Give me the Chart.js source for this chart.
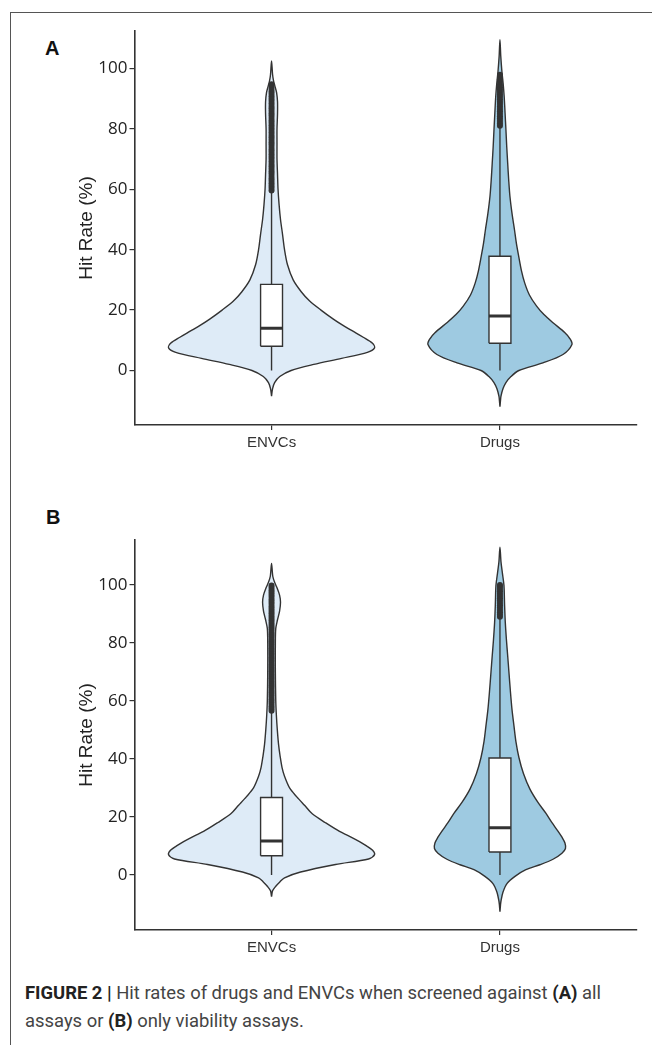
<!DOCTYPE html>
<html>
<head>
<meta charset="utf-8">
<script src="https://cdn.jsdelivr.net/npm/chart.js@4.4.0/dist/chart.umd.min.js"></script>
<style>
    body {
        margin: 0;
        width: 652px;
        height: 1045px;
        position: relative;
        overflow: hidden;
        background: #fff;
        font-family: "Liberation Sans", Arial, sans-serif;
    }
    .frame-top {
        position: absolute; left: 10px; top: 12px; width: 642px; height: 0;
        border-top: 1.5px solid #555;
    }
    .frame-left {
        position: absolute; left: 10px; top: 12px; width: 0; height: 1033px;
        border-left: 1.5px solid #555;
    }
    .panel-tag {
        position: absolute;
        font: bold 20px "Liberation Sans", Arial, sans-serif;
        line-height: 22px;
        color: #111;
    }
    canvas { position: absolute; left: 0; }
    #panelA { top: 0; }
    #panelB { top: 480px; }
    .caption-line {
        position: absolute;
        left: 25px;
        white-space: nowrap;
        font: 18.5px Roboto, "Liberation Sans", sans-serif;
        line-height: 22px;
        color: #444;
        transform-origin: left center;
    }
    .caption-line b { color: #222; }
</style>
</head>
<body>
<div class="frame-top"></div>
<div class="frame-left"></div>

<div class="panel-tag" style="left:45px; top:37px;">A</div>
<div class="panel-tag" style="left:46px; top:506px;">B</div>

<canvas id="panelA" width="652" height="470"></canvas>
<canvas id="panelB" width="652" height="490"></canvas>

<span class="caption-line" id="cap1" style="top:982px;"><b>FIGURE 2 |</b> Hit rates of drugs and ENVCs when screened against <b>(A)</b> all</span>
<span class="caption-line" id="cap2" style="top:1010px;">assays or <b>(B)</b> only viability assays.</span>

<script>
// categories and y ticks
var groups = ["ENVCs", "Drugs"];
var yTicks = [0, 20, 40, 60, 80, 100];

// ---- Panel A: all assays ----
// violin outline = hit rate levels + relative density at each level
var envcsA_levels  = [-8.5, -6, -4, -2, 0, 2, 4, 6, 7.5, 9, 11, 13, 15, 17, 20, 23, 26, 30, 35, 40, 45, 50, 55, 60, 65, 70, 75, 80, 85, 89, 92, 94, 96, 98, 102.5];
var envcsA_density = [0, 0.01, 0.03, 0.08, 0.19, 0.41, 0.68, 0.93, 1.0, 0.98, 0.89, 0.79, 0.69, 0.60, 0.48, 0.37, 0.29, 0.21, 0.155, 0.126, 0.107, 0.087, 0.073, 0.063, 0.058, 0.053, 0.053, 0.053, 0.058, 0.058, 0.049, 0.034, 0.019, 0.01, 0];
var drugsA_levels  = [-12, -10, -8.5, -6, -4, -2, 0, 2.5, 5.3, 8.6, 10.5, 12.5, 15.8, 18.5, 21.3, 25, 29, 33, 37.8, 42, 46.6, 52, 57.6, 63, 68.7, 74, 79.7, 85, 90.7, 95, 99, 104, 109.5];
var drugsA_density = [0, 0.005, 0.01, 0.03, 0.058, 0.107, 0.184, 0.417, 0.612, 0.699, 0.68, 0.631, 0.515, 0.427, 0.356, 0.286, 0.24, 0.209, 0.182, 0.16, 0.141, 0.117, 0.097, 0.085, 0.075, 0.066, 0.058, 0.05, 0.041, 0.031, 0.019, 0.008, 0];

// box stats: lower whisker, Q1, median, Q3, upper whisker
var envcsA_box = [0, 8.0, 14.0, 28.5, 59.0];
var drugsA_box = [0, 9.0, 18.0, 37.8, 80.5];

var envcsA_outliers = [59.6, 60.4, 61.2, 62.0, 62.8, 63.6, 64.4, 65.2, 66.0, 66.8, 67.6, 68.4, 69.2, 70.0, 70.8, 71.6, 72.4, 73.2, 74.0, 74.8, 75.6, 76.4, 77.2, 78.0, 78.8, 79.6, 80.4, 81.2, 82.0, 82.8, 83.6, 84.4, 85.2, 86.0, 86.8, 87.6, 88.4, 89.2, 90.0, 90.8, 91.6, 92.4, 93.2, 94.0, 94.8];
var drugsA_outliers = [81.0, 81.8, 82.6, 83.4, 84.2, 85.0, 85.8, 86.6, 87.4, 88.2, 89.0, 89.8, 90.6, 91.4, 92.2, 93.0, 93.8, 94.6, 95.6, 96.4, 97.9];

// ---- Panel B: viability assays only ----
var envcsB_levels  = [-7.5, -5.5, -4, -2.5, -1, 1, 3.6, 5.5, 7, 8.5, 10, 11.5, 13.5, 15, 18, 21, 24, 27, 30, 34, 37, 41, 45, 50, 55, 60, 70, 80, 85, 88, 91, 94, 96.5, 99, 101, 103, 107.4];
var envcsB_density = [0, 0.01, 0.039, 0.078, 0.126, 0.282, 0.621, 0.942, 1.0, 0.981, 0.922, 0.854, 0.748, 0.66, 0.524, 0.398, 0.32, 0.243, 0.175, 0.126, 0.102, 0.083, 0.068, 0.056, 0.047, 0.041, 0.037, 0.037, 0.041, 0.058, 0.078, 0.087, 0.078, 0.053, 0.029, 0.012, 0];
var drugsB_levels  = [-12.7, -10.5, -9, -6, -3, -0.5, 1.8, 3.5, 5.4, 7.5, 9.1, 11, 13, 15.1, 18, 21.2, 25, 29.6, 35, 40.5, 46, 51.4, 57, 63.5, 70, 75.6, 81, 87, 93, 99.8, 104, 108, 113];
var drugsB_density = [0, 0.005, 0.01, 0.029, 0.068, 0.146, 0.252, 0.388, 0.515, 0.602, 0.636, 0.631, 0.602, 0.563, 0.505, 0.447, 0.369, 0.291, 0.228, 0.184, 0.155, 0.136, 0.117, 0.101, 0.087, 0.075, 0.063, 0.052, 0.045, 0.039, 0.024, 0.01, 0];

var envcsB_box = [0, 6.6, 11.7, 26.7, 56.2];
var drugsB_box = [0, 7.9, 16.3, 40.3, 88.5];

var envcsB_outliers = [56.6, 57.4, 58.2, 59.0, 59.8, 60.6, 61.4, 62.2, 63.0, 63.8, 64.6, 65.4, 66.2, 67.0, 67.8, 68.6, 69.4, 70.2, 71.0, 71.8, 72.6, 73.4, 74.2, 75.0, 75.8, 76.6, 77.4, 78.2, 79.0, 79.8, 80.6, 81.4, 82.2, 83.0, 83.8, 84.6, 85.4, 86.2, 87.0, 87.8, 88.6, 89.4, 90.2, 91.0, 91.8, 92.6, 93.4, 94.2, 95.0, 95.8, 96.6, 97.4, 98.2, 99.0, 99.8];
var drugsB_outliers = [89.0, 89.8, 90.6, 91.4, 92.2, 93.0, 93.8, 94.6, 95.4, 96.2, 97.0, 97.8, 98.6, 99.4, 100.0];

// styling
var fills = ["#deebf7", "#9ecae1"];
var ink = "#333333";
var violinHalfWidth = 0.451;   // x units at relative density 1
var boxHalfWidth = 0.048;

// closed outline: right side bottom->top, then left side top->bottom
function violinPoints(pos, levels, density) {
    var pts = [];
    for (var i = 0; i < levels.length; i++) {
        pts.push({x: pos + density[i] * violinHalfWidth, y: levels[i]});
    }
    for (var j = levels.length - 2; j >= 0; j--) {
        pts.push({x: pos - density[j] * violinHalfWidth, y: levels[j]});
    }
    return pts;
}

function groupDatasets(pos, levels, density, box, outliers, fill) {
    var line = {showLine: true, pointRadius: 0, borderColor: ink, borderWidth: 1.4, tension: 0};
    return [
        Object.assign({}, line, {
            data: violinPoints(pos, levels, density),
            fill: "shape", backgroundColor: fill, tension: 0.3, order: 5
        }),
        Object.assign({}, line, {data: [{x: pos, y: box[0]}, {x: pos, y: box[1]}], order: 4}),
        Object.assign({}, line, {data: [{x: pos, y: box[3]}, {x: pos, y: box[4]}], order: 4}),
        Object.assign({}, line, {
            data: [
                {x: pos - boxHalfWidth, y: box[1]}, {x: pos + boxHalfWidth, y: box[1]},
                {x: pos + boxHalfWidth, y: box[3]}, {x: pos - boxHalfWidth, y: box[3]},
                {x: pos - boxHalfWidth, y: box[1]}
            ],
            fill: "shape", backgroundColor: "#ffffff", order: 3
        }),
        Object.assign({}, line, {
            data: [{x: pos - boxHalfWidth, y: box[2]}, {x: pos + boxHalfWidth, y: box[2]}],
            borderWidth: 3, order: 2
        }),
        {
            data: outliers.map(function(v) { return {x: pos, y: v}; }),
            showLine: false, pointRadius: 3, pointBackgroundColor: ink,
            pointBorderWidth: 0, order: 1
        }
    ];
}

function makePanel(canvasId, datasets, yMin, yMax, padTop, xAxisHeight) {
    return new Chart(document.getElementById(canvasId), {
        type: "scatter",
        data: {datasets: datasets},
        options: {
            responsive: false,
            animation: false,
            events: [],
            layout: {padding: {top: padTop, right: 15, left: 0, bottom: 0}},
            plugins: {legend: {display: false}, tooltip: {enabled: false}},
            scales: {
                x: {
                    type: "linear", min: 0.4, max: 2.6,
                    afterBuildTicks: function(scale) {
                        scale.ticks = groups.map(function(g, i) { return {value: i + 1}; });
                    },
                    afterFit: function(scale) { scale.height = xAxisHeight; },
                    ticks: {
                        callback: function(v) { return groups[v - 1]; },
                        font: {family: "'Liberation Sans', Arial, sans-serif", size: 15},
                        color: "#333", padding: 4, maxRotation: 0, autoSkip: false
                    },
                    grid: {display: true, drawOnChartArea: false, drawTicks: true, tickLength: 5,
                           color: ink, tickColor: ink, lineWidth: 1.2},
                    border: {display: true, color: ink, width: 1.6}
                },
                y: {
                    type: "linear", min: yMin, max: yMax,
                    afterBuildTicks: function(scale) {
                        scale.ticks = yTicks.map(function(v) { return {value: v}; });
                    },
                    afterFit: function(scale) { scale.width = 134.5; },
                    ticks: {
                        font: {family: "'Open Sans', sans-serif", size: 17},
                        color: "#222", padding: 2
                    },
                    grid: {display: true, drawOnChartArea: false, drawTicks: true, tickLength: 5,
                           color: ink, tickColor: ink, lineWidth: 1.2},
                    border: {display: true, color: ink, width: 1.6},
                    title: {
                        display: true, text: "Hit Rate (%)", color: "#222",
                        font: {family: "'Liberation Sans', Arial, sans-serif", size: 19},
                        padding: {top: 75, bottom: 0}
                    }
                }
            }
        }
    });
}

makePanel("panelA",
    groupDatasets(1, envcsA_levels, envcsA_density, envcsA_box, envcsA_outliers, fills[0])
        .concat(groupDatasets(2, drugsA_levels, drugsA_density, drugsA_box, drugsA_outliers, fills[1])),
    -18.05, 112.4, 31, 45);

makePanel("panelB",
    groupDatasets(1, envcsB_levels, envcsB_density, envcsB_box, envcsB_outliers, fills[0])
        .concat(groupDatasets(2, drugsB_levels, drugsB_density, drugsB_box, drugsB_outliers, fills[1])),
    -19.0, 115.5, 60, 40);

// squeeze the caption to the column width
var cap1 = document.getElementById("cap1");
var cap2 = document.getElementById("cap2");
var k = 576 / cap1.getBoundingClientRect().width;
cap1.style.transform = "scaleX(" + k + ")";
cap2.style.transform = "scaleX(" + k + ")";
</script>
</body>
</html>
